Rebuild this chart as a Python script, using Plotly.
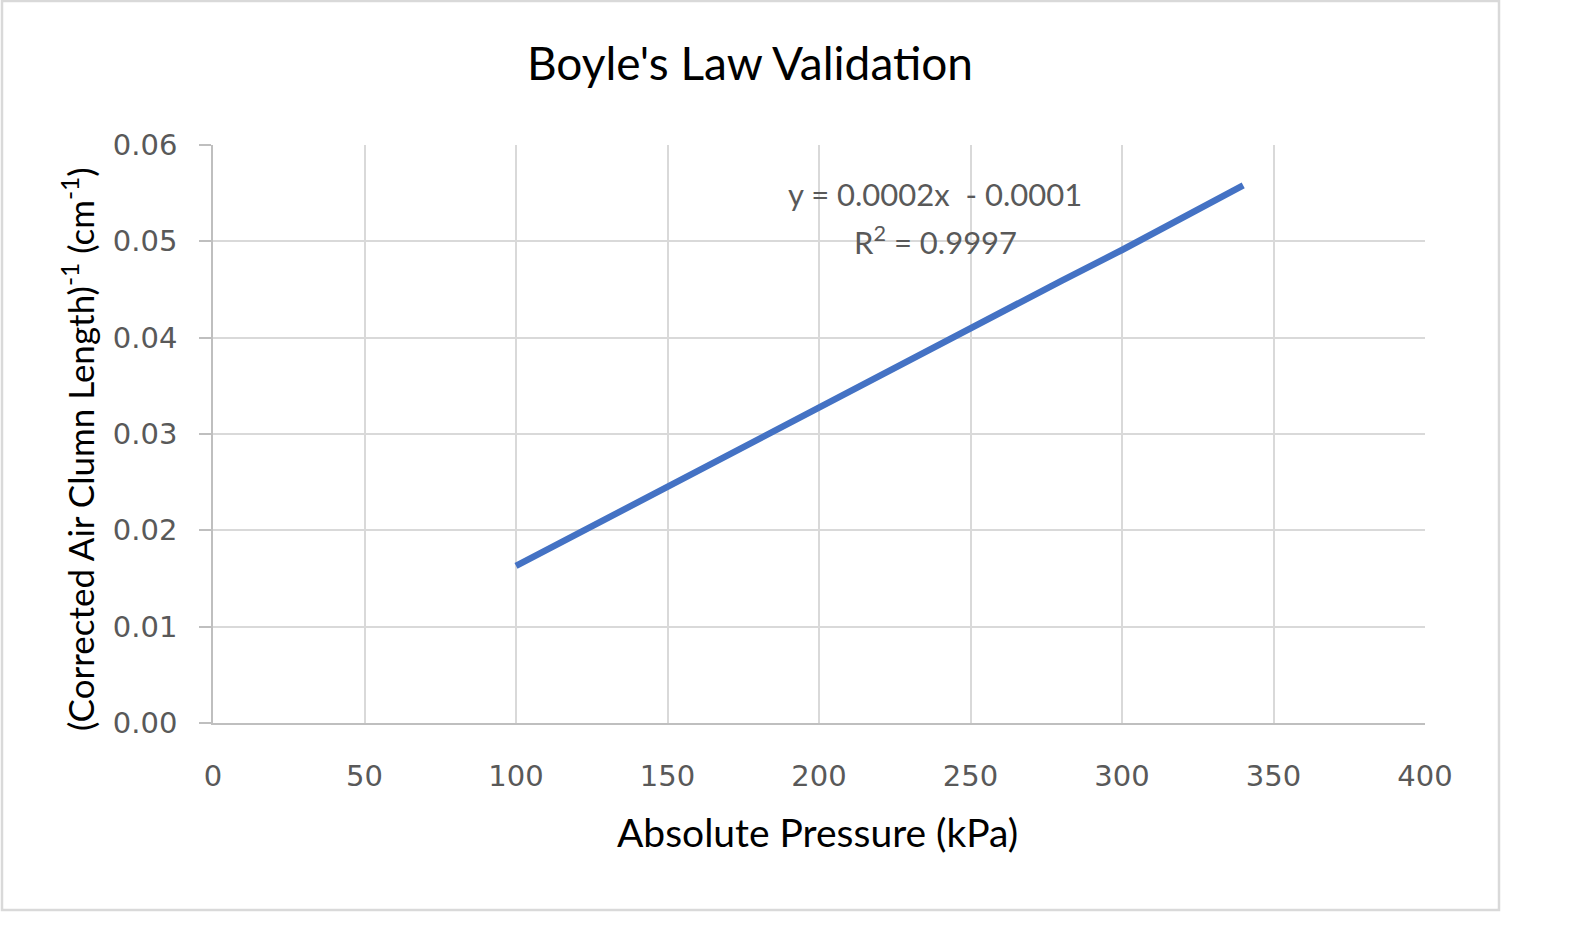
import plotly.graph_objects as go

# Data
pressure_kpa = [100, 120, 140, 160, 180, 200, 220, 240, 260, 280, 300, 320, 340]
inv_length = [0.0163, 0.0196, 0.0229, 0.0262, 0.0294, 0.0327, 0.0360, 0.0393, 0.0426, 0.0459, 0.0491, 0.0525, 0.0558]

x_ticks = [0, 50, 100, 150, 200, 250, 300, 350, 400]
y_ticks = [0.00, 0.01, 0.02, 0.03, 0.04, 0.05, 0.06]

title_text = "Boyle's Law Validation"
x_title = "Absolute Pressure (kPa)"
y_title = "(Corrected Air Clumn Length)<sup>-1</sup> (cm<sup>-1</sup>)"
eq_text = "y = 0.0002x  - 0.0001"
r2_text = "R<sup>2</sup> = 0.9997"

W, H = 1571, 936
L, R, T, B = 213, 1425, 145, 723
pw, ph = R - L, B - T

def px_to_paper_x(px):
    return (px - L) / pw

def px_to_paper_y(py):
    return (B - py) / ph

fig = go.Figure()
fig.add_trace(go.Scatter(
    x=pressure_kpa, y=inv_length, mode="lines",
    line=dict(color="#4472C4", width=6.5),
    showlegend=False, hoverinfo="x+y",
))

grid = "#D9D9D9"
tickfont = dict(family="DejaVu Sans", size=29, color="#595959")

fig.update_layout(
    width=W, height=H,
    margin=dict(l=L, r=W - R, t=T, b=H - B, pad=0),
    paper_bgcolor="white", plot_bgcolor="white",
    title=dict(text=title_text, x=750 / W, xref="container", xanchor="center",
               y=1 - 64 / H, yref="container", yanchor="middle",
               font=dict(family="Lato", size=46, color="#000000")),
    xaxis=dict(range=[0, 400], tickvals=x_ticks, ticktext=[str(v) for v in x_ticks],
               showgrid=True, gridcolor=grid, gridwidth=1.5,
               showline=True, linecolor="#BFBFBF", linewidth=1.5,
               ticks="", tickfont=tickfont, ticklabelstandoff=26,
               zeroline=False, fixedrange=True),
    yaxis=dict(range=[0, 0.06], tickvals=y_ticks, ticktext=[f"{v:.2f}" for v in y_ticks],
               showgrid=True, gridcolor=grid, gridwidth=1.5,
               showline=True, linecolor="#BFBFBF", linewidth=1.5,
               ticks="outside", ticklen=12, tickcolor="#BFBFBF", tickwidth=1.5,
               tickfont=tickfont, ticklabelstandoff=16,
               zeroline=False, fixedrange=True),
    shapes=[dict(type="rect", xref="paper", yref="paper",
                 x0=px_to_paper_x(2), x1=px_to_paper_x(1499),
                 y0=px_to_paper_y(910), y1=px_to_paper_y(1),
                 line=dict(color="#D9D9D9", width=2.5), layer="below")],
    annotations=[
        dict(text=x_title, xref="paper", yref="paper", x=px_to_paper_x(817), y=px_to_paper_y(832),
             xanchor="center", yanchor="middle", showarrow=False,
             font=dict(family="Lato", size=39, color="#000000")),
        dict(text=y_title, xref="paper", yref="paper", x=px_to_paper_x(78), y=px_to_paper_y(449),
             xanchor="center", yanchor="middle", showarrow=False, textangle=-90,
             font=dict(family="Lato", size=35, color="#000000")),
        dict(text=eq_text, xref="paper", yref="paper", x=px_to_paper_x(935), y=px_to_paper_y(194),
             xanchor="center", yanchor="middle", showarrow=False,
             font=dict(family="Lato", size=31, color="#595959")),
        dict(text=r2_text, xref="paper", yref="paper", x=px_to_paper_x(935), y=px_to_paper_y(240),
             xanchor="center", yanchor="middle", showarrow=False,
             font=dict(family="Lato", size=31, color="#595959")),
    ],
)

fig.write_html("out.html")
